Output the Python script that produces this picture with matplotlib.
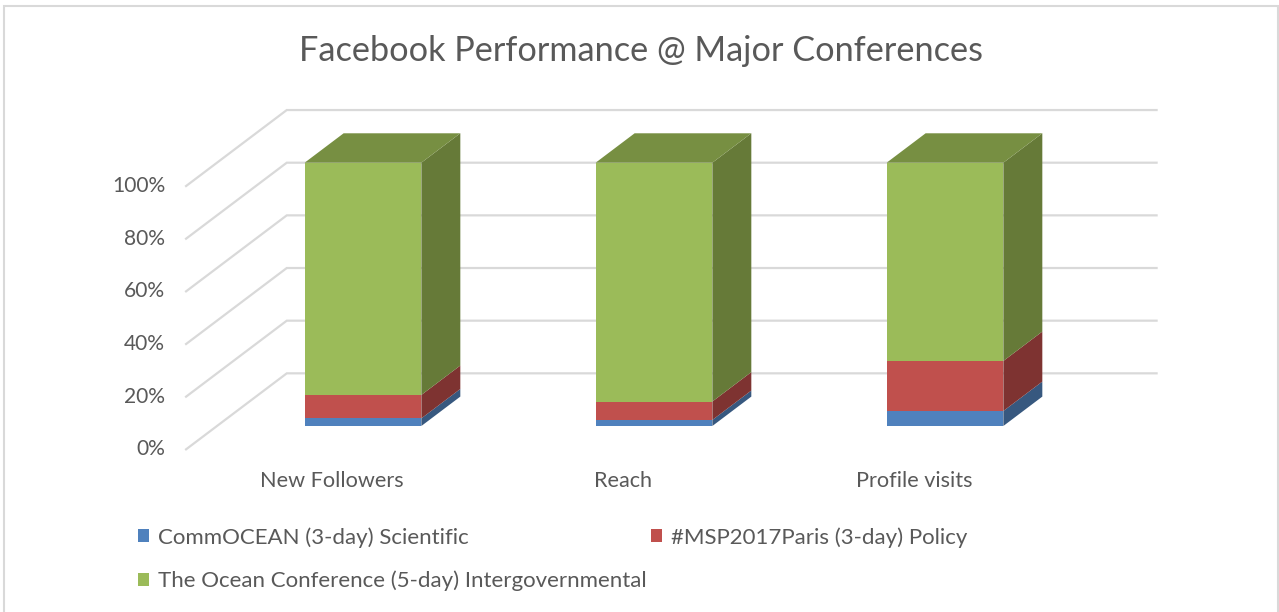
import matplotlib
matplotlib.use("Agg")
import matplotlib.pyplot as plt
from matplotlib.patches import Polygon, Patch, Rectangle
import numpy as np

plt.rcParams['font.family'] = ['Lato', 'DejaVu Sans']

title = "Facebook Performance @ Major Conferences"
categories = ["New Followers", "Reach", "Profile visits"]
series_names = ["CommOCEAN (3-day) Scientific",
                "#MSP2017Paris (3-day) Policy",
                "The Ocean Conference (5-day) Intergovernmental"]
commocean = [2.9, 2.3, 5.7]
msp2017 = [8.9, 7.0, 19.0]
ocean_conf = [88.2, 90.7, 75.3]
y_ticks = [0, 20, 40, 60, 80, 100]
y_tick_labels = ["0%", "20%", "40%", "60%", "80%", "100%"]

front_colors = ["#4F81BD", "#C0504D", "#9BBB59"]
side_colors = ["#37587F", "#7E3331", "#667A38"]
top_colors = ["#4A74A8", "#A84643", "#778F42"]
text_color = "#595959"
grid_color = "#D9D9D9"

W, H = 1279, 612
fig = plt.figure(figsize=(W / 100, H / 100), dpi=100)
ax = fig.add_axes([0, 0, 1, 1])
ax.set_axis_off()
# data units: x = category index, y = percent on bar-front plane
px_per_cat = 291.0
px_per_pct = 2.633
x0_px, y0_px = 363.0, 612 - 426.0
ax.set_xlim(-x0_px / px_per_cat, (W - x0_px) / px_per_cat)
ax.set_ylim(-y0_px / px_per_pct, (H - y0_px) / px_per_pct)

# oblique depth vector (full floor depth) in data units
DX, DY = 100.7 / px_per_cat, 76.0 / px_per_pct
d_front_bar, d_back_bar = 0.307, 0.694
bar_w = 116.7 / px_per_cat

def P(x, y, d):
    return (x + (d - d_front_bar) * DX, y + (d - d_front_bar) * DY)

xL, xR = -0.608 + d_front_bar * DX, 2.381 + d_front_bar * DX

# grid: side wall diagonals and back wall lines
for v in y_ticks:
    pts = [P(xL, v, 0), P(xL, v, 1), P(xR, v, 1)]
    ax.plot([p[0] for p in pts], [p[1] for p in pts], color=grid_color,
            lw=1.6, zorder=1, solid_joinstyle='miter')

data = [commocean, msp2017, ocean_conf]
for i in range(len(categories)):
    bottom = 0.0
    for s in range(3):
        val = data[s][i]
        top = bottom + val
        xl, xr = i - bar_w / 2, i + bar_w / 2
        side = [P(xr, bottom, d_front_bar), P(xr, top, d_front_bar),
                P(xr, top, d_back_bar), P(xr, bottom, d_back_bar)]
        ax.add_patch(Polygon(side, closed=True, facecolor=side_colors[s],
                             edgecolor='none', zorder=3))
        ax.add_patch(Rectangle((xl, bottom), bar_w, val, facecolor=front_colors[s],
                               edgecolor='none', zorder=4))
        if s == 2:
            topf = [P(xl, top, d_front_bar), P(xr, top, d_front_bar),
                    P(xr, top, d_back_bar), P(xl, top, d_back_bar)]
            ax.add_patch(Polygon(topf, closed=True, facecolor=top_colors[s],
                                 edgecolor='none', zorder=3))
        bottom = top

# y tick labels on front plane
for v, lab in zip(y_ticks, y_tick_labels):
    ax.annotate(lab, xy=P(xL, v, 0), xytext=(-15, 0), textcoords='offset points',
                ha='right', va='center', fontsize=15.1, color=text_color)

# category labels
for i, c in enumerate(categories):
    ax.annotate(c, xy=P(i, 0, 0), xytext=(0, -23), textcoords='offset points',
                ha='center', va='center', fontsize=15.6, color=text_color)

fig.text(641 / W, 1 - 51 / H, title, ha='center', va='center',
         fontsize=24.7, color=text_color)

handles = [Patch(facecolor=front_colors[0]), Patch(facecolor=front_colors[2]),
           Patch(facecolor=front_colors[1])]
labels = [series_names[0], series_names[2], series_names[1]]
leg = fig.legend(handles, labels, ncol=2, loc='upper left',
                 bbox_to_anchor=(138 / W, 1 - 527 / H), frameon=False,
                 fontsize=16, labelcolor=text_color, handlelength=0.5,
                 handleheight=0.5, handletextpad=0.4, columnspacing=0.2,
                 labelspacing=1.04, borderaxespad=0, borderpad=0)

# chart frame
fig.patches.append(Rectangle((4 / W, -0.02), (1278 - 4) / W, 1 - 6 / H + 0.02,
                             transform=fig.transFigure, fill=False,
                             edgecolor='#D9D9D9', lw=1.5))

fig.savefig("out.png", dpi=100)
